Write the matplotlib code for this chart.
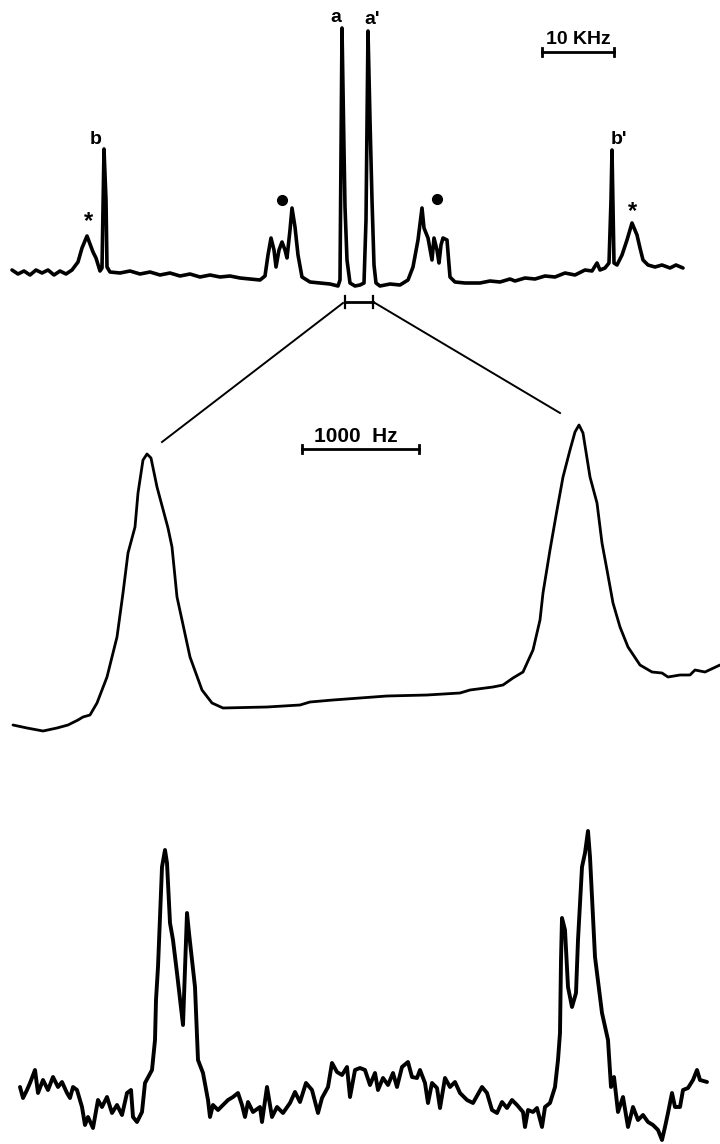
import matplotlib.pyplot as plt

plt.rcParams['font.family'] = ['Liberation Sans', 'DejaVu Sans']

# full spectrum (positions and heights read in figure units)
top_x = [12, 18, 24, 30, 36, 42, 48, 54, 60, 66, 72, 78, 82, 87, 90, 93, 96, 100,
         102, 104, 106, 107, 110, 120, 130, 140, 150, 160, 170, 180, 190, 200, 210,
         220, 230, 240, 250, 260, 265, 268, 271, 274, 276, 279, 282, 285, 287, 290,
         292, 295, 298, 302, 310, 320, 330, 338, 340, 342, 344, 345, 347, 350, 355,
         360, 364, 366, 368, 370, 372, 374, 376, 380, 390, 400, 408, 413, 418, 422,
         424, 428, 432, 434, 437, 439, 441, 443, 447, 450, 455, 465, 480, 490, 500,
         510, 515, 525, 535, 545, 555, 565, 575, 585, 592, 597, 600, 605, 609, 611,
         612, 614, 617, 622, 627, 632, 637, 640, 643, 648, 655, 662, 670, 676, 683]
top_y = [270, 274, 271, 275, 270, 273, 270, 275, 271, 274, 270, 262, 248, 236, 244,
         252, 258, 271, 268, 149, 200, 267, 272, 273, 271, 274, 272, 275, 273, 276,
         274, 277, 275, 277, 276, 278, 279, 280, 276, 255, 238, 250, 267, 250, 242,
         250, 258, 230, 208, 227, 255, 277, 282, 283, 284, 286, 280, 28, 150, 207,
         260, 283, 286, 285, 283, 220, 31, 120, 200, 265, 283, 286, 284, 285, 280,
         267, 240, 208, 228, 238, 260, 238, 250, 263, 245, 238, 240, 277, 282, 283,
         283, 281, 282, 279, 281, 278, 279, 276, 277, 273, 275, 270, 271, 263, 270,
         268, 263, 200, 150, 263, 265, 255, 240, 223, 235, 248, 260, 265, 267, 265,
         268, 265, 268]

# expanded central doublet
mid_x = [13, 27, 43, 57, 68, 78, 83, 90, 97, 107, 117, 123, 128, 135, 138, 143, 147,
         151, 157, 168, 172, 177, 182, 190, 202, 212, 223, 267, 300, 310, 333, 360,
         387, 427, 460, 470, 493, 503, 513, 523, 533, 540, 543, 550, 557, 563, 570,
         575, 579, 583, 590, 597, 602, 607, 613, 620, 628, 640, 652, 662, 668, 680,
         690, 695, 705, 720]
mid_y = [725, 728, 731, 728, 725, 720, 717, 715, 703, 677, 637, 593, 553, 527, 493,
         460, 454, 458, 487, 528, 547, 597, 620, 657, 690, 703, 708, 707, 705, 702,
         700, 698, 696, 695, 693, 690, 687, 685, 678, 672, 650, 620, 593, 550, 510,
         477, 450, 432, 425, 433, 477, 503, 543, 570, 603, 627, 647, 665, 672, 673,
         677, 675, 675, 670, 672, 665]

# second sample, same frequency window
bot_x = [20, 23, 27, 30, 35, 38, 43, 48, 53, 58, 62, 67, 70, 73, 77, 82, 85, 88, 93,
         98, 102, 107, 112, 117, 122, 127, 131, 133, 137, 142, 145, 152, 155, 156,
         158, 162, 165, 167, 170, 173, 177, 183, 187, 189, 195, 198, 203, 208, 210,
         213, 218, 223, 228, 233, 238, 242, 245, 248, 253, 260, 262, 267, 272, 277,
         283, 290, 295, 300, 306, 312, 318, 322, 328, 332, 337, 342, 347, 350, 355,
         360, 365, 370, 375, 378, 383, 388, 393, 397, 402, 408, 412, 417, 420, 425,
         428, 432, 437, 440, 445, 450, 455, 460, 467, 473, 482, 487, 492, 497, 502,
         507, 512, 517, 523, 525, 528, 533, 537, 542, 545, 550, 555, 558, 560, 561,
         562, 565, 568, 572, 576, 578, 582, 585, 588, 590, 595, 602, 608, 611, 614,
         618, 623, 628, 633, 638, 643, 648, 653, 658, 662, 665, 668, 672, 675, 680,
         683, 688, 693, 697, 700, 707]
bot_y = [1087, 1098, 1090, 1083, 1070, 1093, 1080, 1090, 1077, 1087, 1082, 1093,
         1098, 1087, 1090, 1107, 1125, 1117, 1128, 1100, 1107, 1097, 1113, 1105,
         1115, 1093, 1090, 1117, 1122, 1112, 1083, 1070, 1040, 1000, 967, 867, 850,
         863, 923, 940, 973, 1025, 913, 933, 987, 1060, 1073, 1100, 1117, 1105, 1110,
         1105, 1100, 1097, 1093, 1105, 1117, 1102, 1112, 1107, 1122, 1087, 1117,
         1107, 1113, 1103, 1092, 1102, 1083, 1090, 1113, 1098, 1087, 1063, 1072,
         1075, 1067, 1097, 1070, 1068, 1070, 1085, 1073, 1090, 1078, 1085, 1073,
         1087, 1067, 1062, 1077, 1078, 1070, 1083, 1103, 1083, 1088, 1108, 1078,
         1087, 1082, 1093, 1100, 1103, 1087, 1093, 1110, 1113, 1102, 1108, 1100,
         1105, 1112, 1127, 1110, 1112, 1108, 1127, 1107, 1103, 1087, 1060, 1033, 960,
         918, 930, 987, 1007, 993, 940, 867, 853, 831, 857, 957, 1013, 1040, 1087,
         1077, 1112, 1097, 1127, 1107, 1120, 1115, 1122, 1125, 1130, 1140, 1127,
         1113, 1093, 1107, 1107, 1090, 1088, 1080, 1070, 1080, 1082]

peak_labels = ['a', "a'", 'b', "b'"]
peak_label_pos = [(336, 17), (372, 19), (96, 140), (619, 140)]

fig = plt.figure(figsize=(7.2, 11.44), dpi=100)
ax = fig.add_axes([0, 0, 1, 1])
ax.set_xlim(0, 720)
ax.set_ylim(1144, 0)
ax.axis('off')

kw = dict(color='black', solid_joinstyle='round', solid_capstyle='round')
ax.plot(top_x, top_y, lw=2.6, **kw)
ax.plot(mid_x, mid_y, lw=2.0, **kw)
ax.plot(bot_x, bot_y, lw=2.8, **kw)

for lab, (lx, ly) in zip(peak_labels, peak_label_pos):
    ax.text(lx, ly, lab, fontsize=14, fontweight='bold', ha='center', va='center')

# satellites / impurity marks
ax.text(88, 222, '*', fontsize=17, fontweight='bold', ha='center', va='center')
ax.text(633, 212, '*', fontsize=17, fontweight='bold', ha='center', va='center')
ax.plot([282, 437], [200, 199], 'o', color='black', ms=7)

# 10 kHz scale bar
ax.text(578, 40, '10 KHz', fontsize=14, fontweight='bold', ha='center', va='center')
ax.plot([542, 614], [52, 52], color='black', lw=2.0)
for bx in (542, 614):
    ax.plot([bx, bx], [48, 56], color='black', lw=2.0)

# bracket under the central doublet and the expansion lines
ax.plot([345, 373], [302, 302], color='black', lw=2.0)
for bx in (345, 373):
    ax.plot([bx, bx], [296, 308], color='black', lw=1.6)
ax.plot([343, 162], [303, 442], color='black', lw=1.4)
ax.plot([375, 560], [303, 413], color='black', lw=1.4)

# 1000 Hz scale bar
ax.text(356, 436, '1000  Hz', fontsize=15, fontweight='bold', ha='center', va='center')
ax.plot([302, 419], [449, 449], color='black', lw=2.0)
for bx in (302, 419):
    ax.plot([bx, bx], [445, 453], color='black', lw=2.0)

fig.savefig('out.png', dpi=100)
